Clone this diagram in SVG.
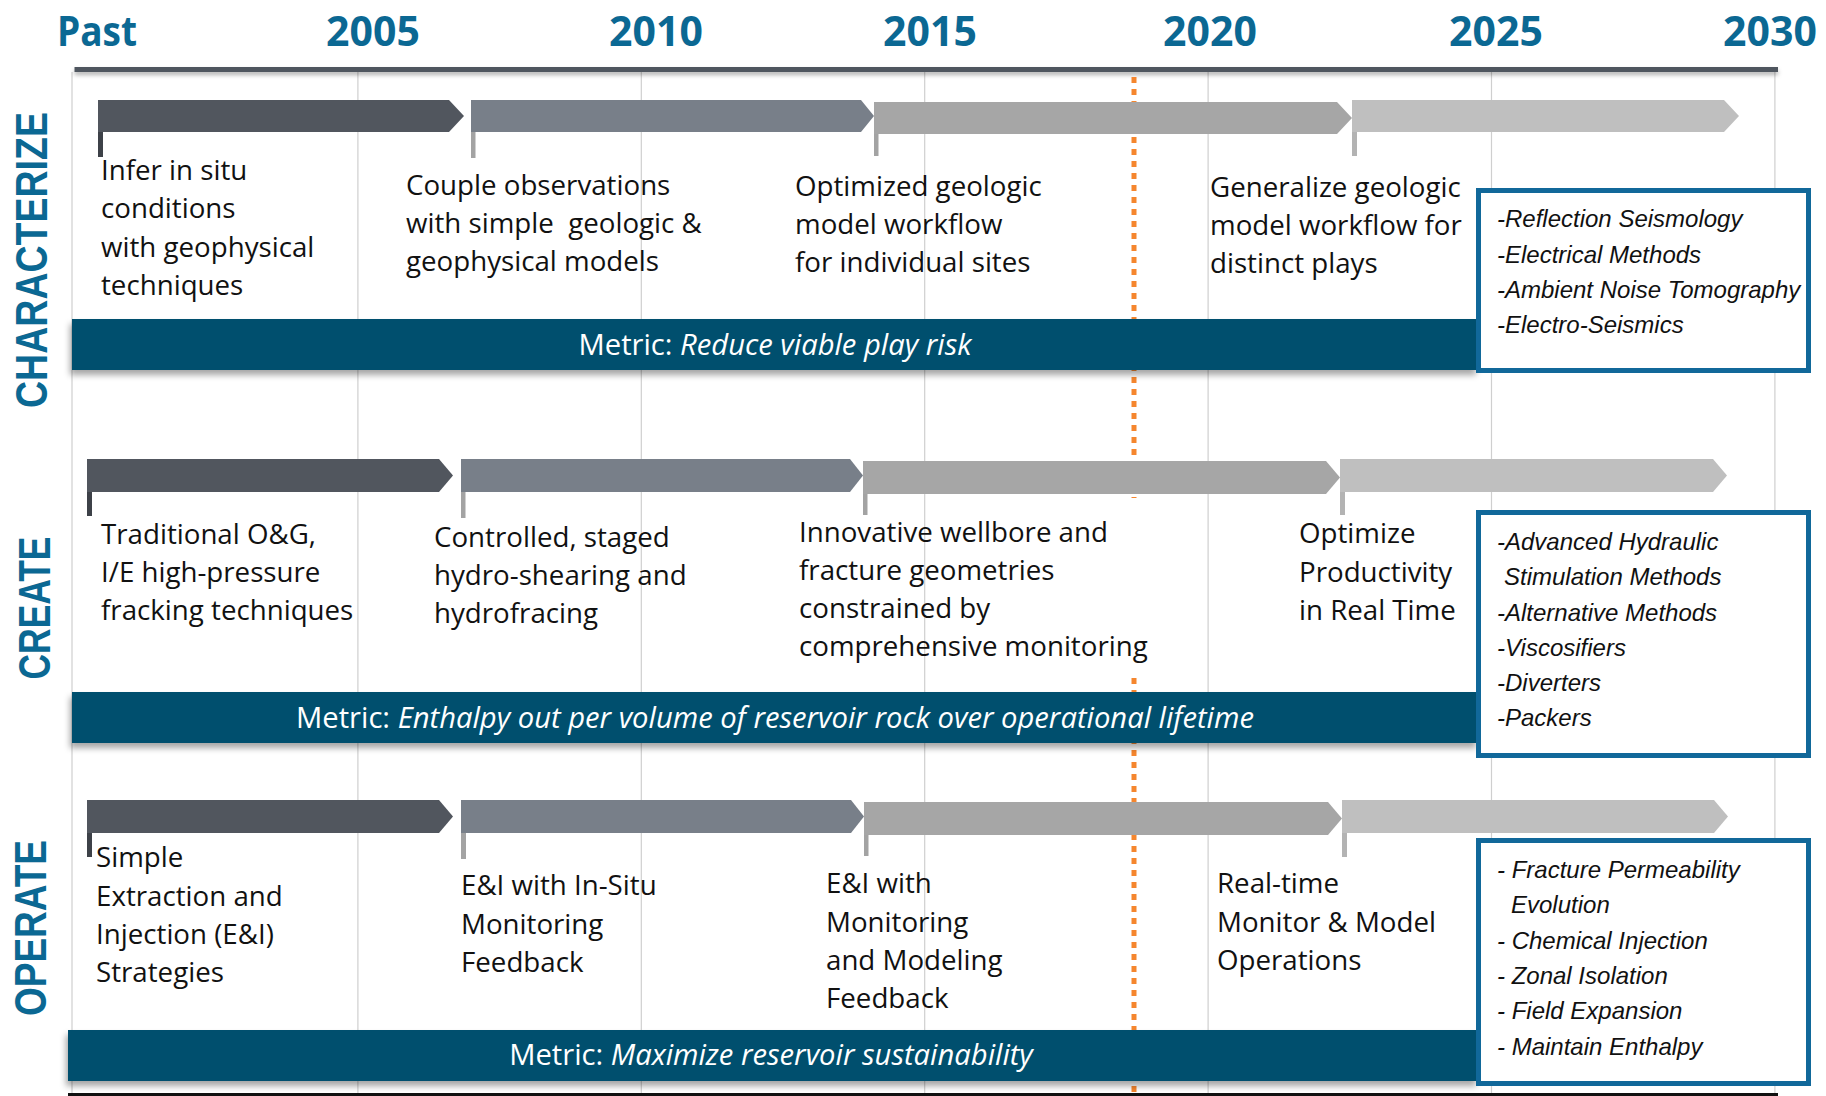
<svg xmlns="http://www.w3.org/2000/svg" width="1826" height="1096" viewBox="0 0 1826 1096">
<defs>
<filter id="sh" x="-5%" y="-40%" width="110%" height="200%"><feDropShadow dx="-2" dy="5" stdDeviation="3" flood-color="#000" flood-opacity="0.35"/></filter>
<filter id="lsh" x="-2%" y="-200%" width="104%" height="600%"><feDropShadow dx="0" dy="3" stdDeviation="2" flood-color="#000" flood-opacity="0.3"/></filter>
</defs>
<style>
.yr{font-family:"Open Sans",sans-serif;font-weight:700;font-size:41px;fill:#0b6893;text-anchor:middle}
.lab{font-family:"Liberation Sans",Arial,sans-serif;font-weight:700;font-size:44px;fill:#0b6893;text-anchor:middle}
.t{font-family:"Open Sans",sans-serif;font-size:27.7px;fill:#111}
.m{font-family:"Open Sans",sans-serif;font-size:29.2px;fill:#fff;text-anchor:middle}
.i{font-style:italic}
.b{font-family:"Liberation Sans",Arial,sans-serif;font-style:italic;font-size:24px;fill:#111}
.grid{stroke:#cfcfcf;stroke-width:1.2}
.bar{fill:#014f6e}
.box{fill:#fff;stroke:#11689a;stroke-width:5}
.a1{fill:#51565e}.a2{fill:#787f89}.a3{fill:#a6a6a6}.a4{fill:#bfbfbf}
.p1{fill:#3d4148}.p2,.p3{fill:#a3a3a3}.p4{fill:#b3b3b3}
.or{stroke:#f5862e;stroke-width:5;stroke-dasharray:6 6;fill:none}
</style>

<g id="timeline">
<line class="grid" x1="72" y1="72" x2="72" y2="1096"/>
<line class="grid" x1="357.9" y1="72" x2="357.9" y2="1096"/>
<line class="grid" x1="641.3" y1="72" x2="641.3" y2="1096"/>
<line class="grid" x1="924.7" y1="72" x2="924.7" y2="1096"/>
<line class="grid" x1="1208.1" y1="72" x2="1208.1" y2="1096"/>
<line class="grid" x1="1491.5" y1="72" x2="1491.5" y2="1096"/>
<line class="grid" x1="1774.9" y1="72" x2="1774.9" y2="1096"/>
<rect x="74.5" y="67" width="1703.5" height="5" fill="#50565e" filter="url(#lsh)"/>
<rect x="68" y="1093" width="1710" height="3" fill="#111"/>
<line class="or" x1="1134" y1="77" x2="1134" y2="498"/>
<line class="or" x1="1134" y1="678" x2="1134" y2="1096"/>
</g>

<g id="years">
<text class="yr" x="97" y="46" textLength="80" lengthAdjust="spacingAndGlyphs">Past</text>
<text class="yr" x="373" y="46">2005</text>
<text class="yr" x="656" y="46">2010</text>
<text class="yr" x="930" y="46">2015</text>
<text class="yr" x="1210" y="46">2020</text>
<text class="yr" x="1496" y="46">2025</text>
<text class="yr" x="1770" y="46">2030</text>
</g>

<g id="label-characterize"><text class="lab" transform="translate(47,260) rotate(-90)" textLength="296" lengthAdjust="spacingAndGlyphs">CHARACTERIZE</text></g>
<g id="label-create"><text class="lab" transform="translate(49.5,608) rotate(-90)" textLength="143" lengthAdjust="spacingAndGlyphs">CREATE</text></g>
<g id="label-operate"><text class="lab" transform="translate(45.5,928) rotate(-90)" textLength="176" lengthAdjust="spacingAndGlyphs">OPERATE</text></g>

<!-- Row 1: CHARACTERIZE -->
<g id="c-stage1">
<polygon class="a1" points="98,100 449,100 464,116 449,132 98,132"/>
<rect class="p1" x="98" y="132" width="5" height="25"/>
<text class="t" x="101" y="180">Infer in situ</text>
<text class="t" x="101" y="218">conditions</text>
<text class="t" x="101" y="257">with geophysical</text>
<text class="t" x="101" y="295">techniques</text>
</g>
<g id="c-stage2">
<polygon class="a2" points="471,100 861,100 874,116 861,132 471,132"/>
<rect class="p2" x="471" y="132" width="4.5" height="26"/>
<text class="t" x="406" y="195">Couple observations</text>
<text class="t" x="406" y="233" xml:space="preserve">with simple  geologic &amp;</text>
<text class="t" x="406" y="271">geophysical models</text>
</g>
<g id="c-stage3">
<polygon class="a3" points="874,102 1337,102 1352,118 1337,134 874,134"/>
<rect class="p3" x="874" y="134" width="4.5" height="22"/>
<text class="t" x="795" y="196">Optimized geologic</text>
<text class="t" x="795" y="234">model workflow</text>
<text class="t" x="795" y="272">for individual sites</text>
</g>
<g id="c-stage4">
<polygon class="a4" points="1352,100 1724,100 1739,116 1724,132 1352,132"/>
<rect class="p4" x="1352" y="132" width="5" height="24"/>
<text class="t" x="1210" y="197">Generalize geologic</text>
<text class="t" x="1210" y="235">model workflow for</text>
<text class="t" x="1210" y="273">distinct plays</text>
</g>
<g id="c-metric">
<rect class="bar" x="72" y="319" width="1406" height="51" filter="url(#sh)"/>
<text class="m" x="775" y="355">Metric: <tspan class="i">Reduce viable play risk</tspan></text>
</g>
<g id="c-methods">
<rect class="box" x="1478.5" y="190.5" width="330" height="180"/>
<text class="b" x="1497" y="227">-Reflection Seismology</text>
<text class="b" x="1497" y="263">-Electrical Methods</text>
<text class="b" x="1497" y="298">-Ambient Noise Tomography</text>
<text class="b" x="1497" y="333">-Electro-Seismics</text>
</g>

<!-- Row 2: CREATE -->
<g id="cr-stage1">
<polygon class="a1" points="87,459 439,459 453,475.5 439,492 87,492"/>
<rect class="p1" x="87" y="492" width="5" height="24"/>
<text class="t" x="101" y="544">Traditional O&amp;G,</text>
<text class="t" x="101" y="582">I/E high-pressure</text>
<text class="t" x="101" y="620">fracking techniques</text>
</g>
<g id="cr-stage2">
<polygon class="a2" points="461,459 850,459 863,475.5 850,492 461,492"/>
<rect class="p2" x="461" y="492" width="4.5" height="26"/>
<text class="t" x="434" y="547">Controlled, staged</text>
<text class="t" x="434" y="585">hydro-shearing and</text>
<text class="t" x="434" y="623">hydrofracing</text>
</g>
<g id="cr-stage3">
<polygon class="a3" points="863,461 1326,461 1340,477.5 1326,494 863,494"/>
<rect class="p3" x="863" y="494" width="4.5" height="21"/>
<text class="t" x="799" y="542">Innovative wellbore and</text>
<text class="t" x="799" y="580">fracture geometries</text>
<text class="t" x="799" y="618">constrained by</text>
<text class="t" x="799" y="656">comprehensive monitoring</text>
</g>
<g id="cr-stage4">
<polygon class="a4" points="1340,459 1713,459 1727,475.5 1713,492 1340,492"/>
<rect class="p4" x="1340" y="492" width="5" height="23"/>
<text class="t" x="1299" y="543">Optimize</text>
<text class="t" x="1299" y="582">Productivity</text>
<text class="t" x="1299" y="620">in Real Time</text>
</g>
<g id="cr-metric">
<rect class="bar" x="72" y="692" width="1406" height="51" filter="url(#sh)"/>
<text class="m" x="775" y="728">Metric: <tspan class="i">Enthalpy out per volume of reservoir rock over operational lifetime</tspan></text>
</g>
<g id="cr-methods">
<rect class="box" x="1478.5" y="512.5" width="330" height="243"/>
<text class="b" x="1497" y="550">-Advanced Hydraulic</text>
<text class="b" x="1504" y="585">Stimulation Methods</text>
<text class="b" x="1497" y="621">-Alternative Methods</text>
<text class="b" x="1497" y="656">-Viscosifiers</text>
<text class="b" x="1497" y="691">-Diverters</text>
<text class="b" x="1497" y="726">-Packers</text>
</g>

<!-- Row 3: OPERATE -->
<g id="op-stage1">
<polygon class="a1" points="87,800 439,800 453,816.5 439,833 87,833"/>
<rect class="p1" x="87" y="833" width="5" height="24"/>
<text class="t" x="96" y="867">Simple</text>
<text class="t" x="96" y="906">Extraction and</text>
<text class="t" x="96" y="944">Injection (E&amp;I)</text>
<text class="t" x="96" y="982">Strategies</text>
</g>
<g id="op-stage2">
<polygon class="a2" points="461,800 851,800 864,816.5 851,833 461,833"/>
<rect class="p2" x="461" y="833" width="5" height="26"/>
<text class="t" x="461" y="895">E&amp;I with In-Situ</text>
<text class="t" x="461" y="934">Monitoring</text>
<text class="t" x="461" y="972">Feedback</text>
</g>
<g id="op-stage3">
<polygon class="a3" points="864,802 1328,802 1342,818.5 1328,835 864,835"/>
<rect class="p3" x="864" y="835" width="4.5" height="21"/>
<text class="t" x="826" y="893">E&amp;I with</text>
<text class="t" x="826" y="932">Monitoring</text>
<text class="t" x="826" y="970">and Modeling</text>
<text class="t" x="826" y="1008">Feedback</text>
</g>
<g id="op-stage4">
<polygon class="a4" points="1342,800 1714,800 1728,816.5 1714,833 1342,833"/>
<rect class="p4" x="1342" y="833" width="5" height="24"/>
<text class="t" x="1217" y="893">Real-time</text>
<text class="t" x="1217" y="932">Monitor &amp; Model</text>
<text class="t" x="1217" y="970">Operations</text>
</g>
<g id="op-metric">
<rect class="bar" x="68" y="1030" width="1410" height="51" filter="url(#sh)"/>
<text class="m" x="771" y="1065">Metric: <tspan class="i">Maximize reservoir sustainability</tspan></text>
</g>
<g id="op-methods">
<rect class="box" x="1478.5" y="840.5" width="330" height="243"/>
<text class="b" x="1497" y="878">- Fracture Permeability</text>
<text class="b" x="1511" y="913">Evolution</text>
<text class="b" x="1497" y="949">- Chemical Injection</text>
<text class="b" x="1497" y="984">- Zonal Isolation</text>
<text class="b" x="1497" y="1019">- Field Expansion</text>
<text class="b" x="1497" y="1055">- Maintain Enthalpy</text>
</g>

<g id="connectors"></g>
</svg>
